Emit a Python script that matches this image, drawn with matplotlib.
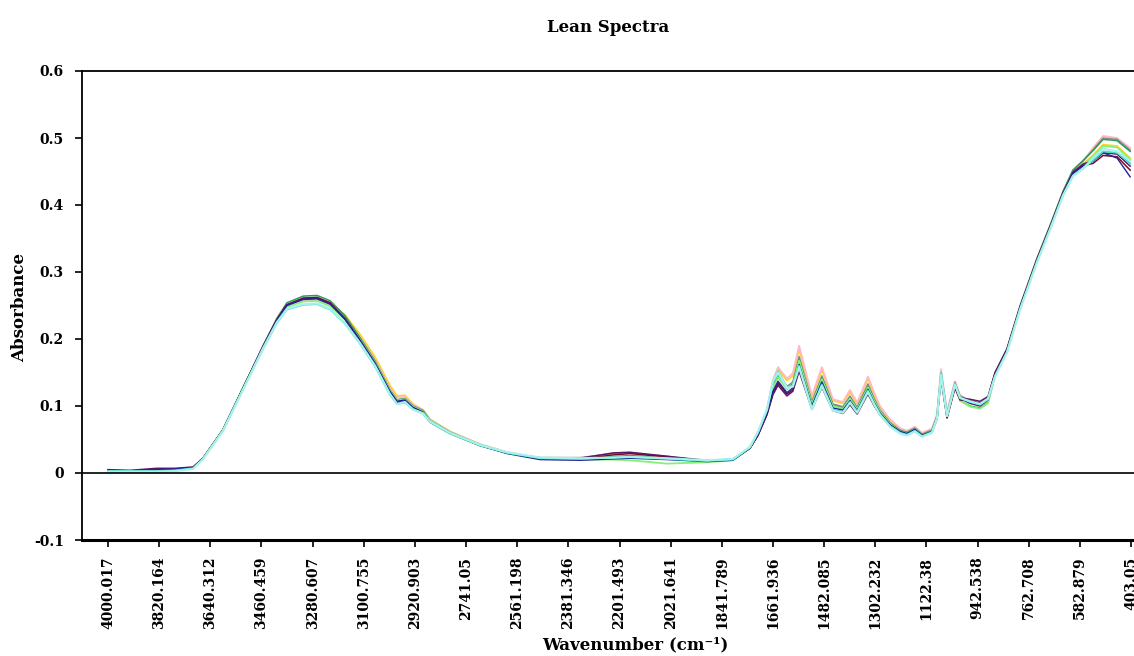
import matplotlib
matplotlib.use("Agg")
import matplotlib.pyplot as plt

plt.rcParams['font.family'] = ['DejaVu Serif']
plt.rcParams['font.weight'] = 'bold'

# wavenumber grid (cm-1) shared by all spectra
wavenumber = [4000, 3923, 3828, 3764, 3701, 3666, 3596, 3511, 3455, 3406, 3371,
              3314, 3265, 3219, 3167, 3114, 3061, 3009, 2984, 2956, 2928, 2892,
              2868, 2798, 2692, 2597, 2481, 2340, 2224, 2165, 2035, 1894, 1803,
              1743, 1715, 1683, 1662, 1644, 1613, 1592, 1570, 1525, 1490, 1451,
              1416, 1391, 1366, 1328, 1307, 1286, 1250, 1215, 1191, 1163, 1138,
              1103, 1085, 1071, 1050, 1022, 1004, 969, 934, 906, 881, 839, 793,
              734, 688, 642, 607, 572, 537, 501, 452, 406]

lean_gold = [0.003, 0.003, 0.003, 0.004, 0.008,
             0.022, 0.064, 0.139, 0.188, 0.228, 0.250,
             0.259, 0.260, 0.254, 0.236,
             0.207, 0.173, 0.131, 0.115, 0.116, 0.103, 0.094, 0.080,
             0.062, 0.043, 0.031, 0.022,
             0.021, 0.024, 0.026, 0.022, 0.018, 0.020,
             0.037, 0.058, 0.093, 0.137, 0.155, 0.138, 0.145, 0.185, 0.112, 0.154,
             0.108, 0.104, 0.121, 0.103, 0.141, 0.118, 0.098, 0.078, 0.066, 0.062,
             0.068, 0.059, 0.065, 0.086, 0.152, 0.088, 0.136, 0.113,
             0.104, 0.100, 0.108,
             0.147, 0.184, 0.248, 0.318, 0.367, 0.418, 0.449, 0.461,
             0.474, 0.490, 0.488, 0.470]

lean_pink = [0.003, 0.003, 0.003, 0.004, 0.008,
             0.022, 0.064, 0.139, 0.188, 0.228, 0.249,
             0.257, 0.258, 0.251, 0.233,
             0.203, 0.169, 0.127, 0.112, 0.114, 0.102, 0.094, 0.080,
             0.062, 0.043, 0.031, 0.022,
             0.021, 0.024, 0.026, 0.022, 0.018, 0.020,
             0.038, 0.059, 0.094, 0.139, 0.158, 0.141, 0.149, 0.190, 0.115, 0.158,
             0.110, 0.106, 0.124, 0.105, 0.144, 0.121, 0.100, 0.080, 0.067, 0.063,
             0.069, 0.060, 0.066, 0.088, 0.155, 0.091, 0.137, 0.116,
             0.108, 0.104, 0.112,
             0.150, 0.186, 0.250, 0.320, 0.369, 0.420, 0.452, 0.465,
             0.485, 0.503, 0.500, 0.485]

lean_gray = [0.003, 0.003, 0.004, 0.005, 0.008,
             0.022, 0.064, 0.139, 0.188, 0.229, 0.251,
             0.261, 0.262, 0.254, 0.232,
             0.200, 0.166, 0.124, 0.109, 0.111, 0.100, 0.093, 0.079,
             0.061, 0.042, 0.030, 0.023,
             0.023, 0.029, 0.030, 0.025, 0.019, 0.020,
             0.037, 0.057, 0.091, 0.131, 0.147, 0.129, 0.136, 0.174, 0.106, 0.145,
             0.103, 0.099, 0.115, 0.098, 0.133, 0.112, 0.094, 0.075, 0.064, 0.061,
             0.067, 0.058, 0.064, 0.085, 0.149, 0.089, 0.135, 0.115,
             0.108, 0.104, 0.112,
             0.149, 0.185, 0.249, 0.319, 0.368, 0.420, 0.452, 0.466,
             0.482, 0.500, 0.498, 0.482]

lean_green = [0.003, 0.003, 0.003, 0.004, 0.008,
              0.022, 0.065, 0.140, 0.190, 0.231, 0.254,
              0.264, 0.265, 0.257, 0.235,
              0.202, 0.167, 0.124, 0.109, 0.111, 0.100, 0.093, 0.079,
              0.061, 0.042, 0.030, 0.022,
              0.021, 0.024, 0.026, 0.022, 0.018, 0.020,
              0.037, 0.057, 0.090, 0.128, 0.144, 0.126, 0.133, 0.170, 0.104, 0.142,
              0.101, 0.097, 0.112, 0.096, 0.130, 0.110, 0.093, 0.074, 0.063, 0.060,
              0.066, 0.057, 0.063, 0.084, 0.148, 0.087, 0.130, 0.108,
              0.100, 0.097, 0.105,
              0.146, 0.185, 0.249, 0.320, 0.369, 0.420, 0.452, 0.466,
              0.481, 0.498, 0.496, 0.480]

lean_lightgreen = [0.003, 0.003, 0.003, 0.004, 0.007,
                   0.022, 0.064, 0.139, 0.188, 0.227, 0.248,
                   0.256, 0.257, 0.249, 0.229,
                   0.199, 0.165, 0.123, 0.108, 0.110, 0.099, 0.092, 0.079,
                   0.061, 0.042, 0.030, 0.021,
                   0.020, 0.020, 0.019, 0.014, 0.016, 0.019,
                   0.037, 0.057, 0.090, 0.127, 0.143, 0.125, 0.131, 0.168, 0.103, 0.140,
                   0.100, 0.096, 0.111, 0.095, 0.128, 0.109, 0.092, 0.073, 0.062, 0.059,
                   0.065, 0.056, 0.062, 0.083, 0.146, 0.085, 0.130, 0.108,
                   0.099, 0.096, 0.104,
                   0.146, 0.184, 0.248, 0.318, 0.367, 0.418, 0.448, 0.460,
                   0.472, 0.488, 0.486, 0.468]

lean_maroon = [0.004, 0.003, 0.006, 0.006, 0.008,
               0.022, 0.064, 0.139, 0.189, 0.229, 0.251,
               0.261, 0.262, 0.254, 0.230,
               0.197, 0.162, 0.120, 0.105, 0.107, 0.096, 0.089, 0.076,
               0.059, 0.041, 0.030, 0.022,
               0.021, 0.027, 0.029, 0.024, 0.018, 0.020,
               0.037, 0.056, 0.088, 0.119, 0.134, 0.118, 0.124, 0.156, 0.097, 0.131,
               0.094, 0.091, 0.104, 0.090, 0.121, 0.103, 0.088, 0.071, 0.061, 0.058,
               0.064, 0.056, 0.061, 0.081, 0.141, 0.082, 0.127, 0.109,
               0.108, 0.104, 0.111,
               0.149, 0.184, 0.248, 0.318, 0.367, 0.418, 0.448, 0.459,
               0.462, 0.474, 0.472, 0.452]

lean_purple = [0.005, 0.004, 0.007, 0.007, 0.009,
               0.022, 0.064, 0.139, 0.188, 0.229, 0.251,
               0.260, 0.261, 0.253, 0.230,
               0.198, 0.163, 0.121, 0.106, 0.108, 0.097, 0.090, 0.077,
               0.060, 0.041, 0.030, 0.022,
               0.022, 0.030, 0.031, 0.025, 0.018, 0.021,
               0.037, 0.056, 0.087, 0.117, 0.131, 0.115, 0.122, 0.152, 0.095, 0.128,
               0.093, 0.089, 0.102, 0.088, 0.118, 0.101, 0.087, 0.070, 0.060, 0.058,
               0.064, 0.056, 0.061, 0.082, 0.143, 0.083, 0.128, 0.112,
               0.110, 0.107, 0.114,
               0.150, 0.185, 0.248, 0.318, 0.367, 0.418, 0.449, 0.461,
               0.466, 0.478, 0.476, 0.458]

lean_navy = [0.004, 0.003, 0.005, 0.006, 0.008,
             0.022, 0.064, 0.139, 0.188, 0.228, 0.250,
             0.259, 0.260, 0.252, 0.230,
             0.198, 0.164, 0.122, 0.107, 0.109, 0.098, 0.091, 0.077,
             0.060, 0.041, 0.029, 0.020,
             0.019, 0.021, 0.022, 0.020, 0.017, 0.019,
             0.037, 0.057, 0.089, 0.122, 0.137, 0.120, 0.127, 0.162, 0.100, 0.136,
             0.097, 0.094, 0.108, 0.093, 0.125, 0.106, 0.090, 0.072, 0.062, 0.059,
             0.065, 0.056, 0.062, 0.083, 0.146, 0.085, 0.131, 0.111,
             0.104, 0.100, 0.109,
             0.147, 0.183, 0.247, 0.317, 0.366, 0.417, 0.447, 0.458,
             0.465, 0.478, 0.470, 0.442]

lean_turquoise = [0.003, 0.003, 0.003, 0.004, 0.007,
                  0.021, 0.063, 0.137, 0.185, 0.224, 0.244,
                  0.251, 0.252, 0.244, 0.223,
                  0.193, 0.159, 0.117, 0.103, 0.105, 0.095, 0.089, 0.076,
                  0.059, 0.041, 0.030, 0.022,
                  0.021, 0.023, 0.024, 0.021, 0.018, 0.020,
                  0.038, 0.060, 0.094, 0.136, 0.152, 0.128, 0.130, 0.160, 0.096, 0.132,
                  0.094, 0.091, 0.106, 0.091, 0.123, 0.104, 0.088, 0.070, 0.060, 0.057,
                  0.063, 0.055, 0.061, 0.083, 0.150, 0.086, 0.133, 0.112,
                  0.106, 0.102, 0.110,
                  0.145, 0.181, 0.245, 0.315, 0.364, 0.415, 0.444, 0.455,
                  0.466, 0.480, 0.478, 0.462]

lean_paleturq = [0.002, 0.002, 0.002, 0.003, 0.006,
                 0.021, 0.063, 0.137, 0.186, 0.225, 0.245,
                 0.252, 0.253, 0.245, 0.224,
                 0.194, 0.160, 0.118, 0.103, 0.106, 0.095, 0.089, 0.077,
                 0.060, 0.042, 0.031, 0.023,
                 0.022, 0.023, 0.024, 0.022, 0.019, 0.021,
                 0.039, 0.061, 0.095, 0.137, 0.150, 0.127, 0.129, 0.158, 0.095, 0.130,
                 0.093, 0.090, 0.105, 0.090, 0.121, 0.103, 0.087, 0.069, 0.059, 0.056,
                 0.062, 0.054, 0.060, 0.082, 0.146, 0.085, 0.132, 0.112,
                 0.107, 0.103, 0.111,
                 0.144, 0.180, 0.244, 0.314, 0.363, 0.414, 0.443, 0.454,
                 0.470, 0.484, 0.480, 0.466]

# category labels on the wavenumber axis
tick_values = [4000.017, 3820.164, 3640.312, 3460.459, 3280.607, 3100.755,
               2920.903, 2741.05, 2561.198, 2381.346, 2201.493, 2021.641,
               1841.789, 1661.936, 1482.085, 1302.232, 1122.38, 942.538,
               762.708, 582.879, 403.05]
tick_labels = ['4000.017', '3820.164', '3640.312', '3460.459', '3280.607',
               '3100.755', '2920.903', '2741.05', '2561.198', '2381.346',
               '2201.493', '2021.641', '1841.789', '1661.936', '1482.085',
               '1302.232', '1122.38', '942.538', '762.708', '582.879', '403.05']
y_ticks = [-0.1, 0, 0.1, 0.2, 0.3, 0.4, 0.5, 0.6]
y_labels = ['-0.1', '0', '0.1', '0.2', '0.3', '0.4', '0.5', '0.6']

spectra = [
    (lean_gold, '#FFD21F', 1.3),
    (lean_pink, '#FFB8C6', 1.3),
    (lean_gray, '#8C8C8C', 1.1),
    (lean_green, '#2E9A5A', 1.1),
    (lean_lightgreen, '#86F07A', 1.3),
    (lean_maroon, '#7A0A1E', 1.1),
    (lean_purple, '#5E1466', 1.1),
    (lean_navy, '#22229A', 1.0),
    (lean_turquoise, '#3FE0CC', 1.3),
    (lean_paleturq, '#A6F2EA', 1.6),
]

fig = plt.figure(figsize=(11.34, 6.56), dpi=100)
ax = fig.add_axes([82 / 1134, 1 - 540 / 656, (1150 - 82) / 1134, (540 - 71) / 656])

for values, color, lw in spectra:
    ax.plot(wavenumber, values, color=color, lw=lw, solid_joinstyle='round')

ax.axhline(0, color='black', lw=1.2, zorder=3)

ax.set_xlim(4091.4, 336.3)
ax.set_ylim(-0.1, 0.6)
ax.set_xticks(tick_values)
ax.set_xticklabels(tick_labels, rotation=90, fontsize=10, fontweight='bold')
ax.set_yticks(y_ticks)
ax.set_yticklabels(y_labels, fontsize=10, fontweight='bold')
ax.tick_params(axis='x', direction='out', length=5, width=1.2, pad=7)
ax.tick_params(axis='y', direction='out', length=5, width=1.2, pad=8)

for side in ['top', 'left']:
    ax.spines[side].set_linewidth(1.3)
ax.spines['bottom'].set_linewidth(2.2)
ax.spines['right'].set_visible(False)

fig.text(608 / 1134, 1 - 27 / 656, 'Lean Spectra', ha='center', va='center',
         fontsize=12, fontweight='bold')
fig.text(20 / 1134, 1 - 307 / 656, 'Absorbance', ha='center', va='center',
         rotation=90, fontsize=12, fontweight='bold')
fig.text(635 / 1134, 1 - 645 / 656, 'Wavenumber (cm\u207b\u00b9)', ha='center',
         va='center', fontsize=12, fontweight='bold')

fig.savefig('out.png', dpi=100)
